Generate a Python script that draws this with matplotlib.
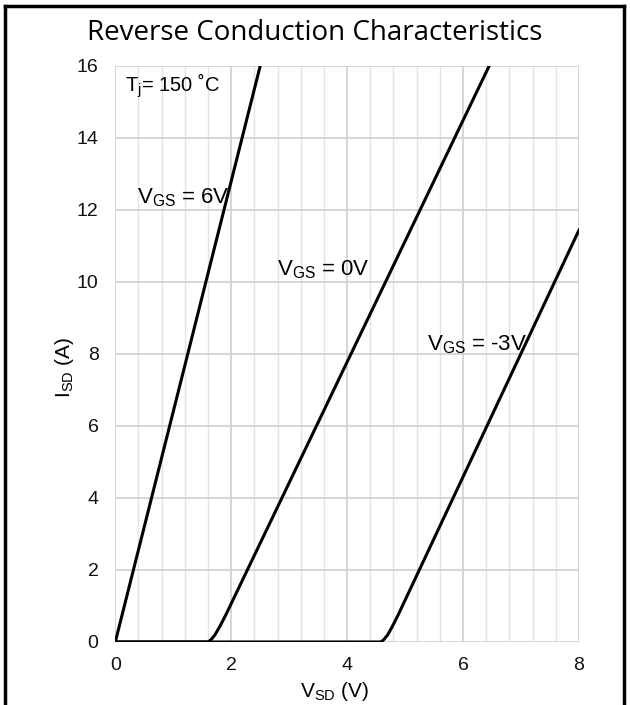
import numpy as np
import matplotlib.pyplot as plt
from matplotlib.lines import Line2D

plt.rcParams['font.family'] = ['Liberation Sans', 'DejaVu Sans']

# curvas (V_SD em V, I_SD em A)
v_6v = [0.0, 2.5]
i_6v = [0.0, 16.0]

v_0v = [0.0, 1.6, 1.65, 1.72, 1.8, 1.9, 6.45]
i_0v = [0.0, 0.0, 0.06, 0.2, 0.42, 0.73, 16.0]

v_m3v = [0.0, 4.58, 4.63, 4.7, 4.78, 4.88, 8.0]
i_m3v = [0.0, 0.0, 0.06, 0.2, 0.43, 0.75, 11.44]

x_ticks = [0, 2, 4, 6, 8]
y_ticks = [0, 2, 4, 6, 8, 10, 12, 14, 16]

fig = plt.figure(figsize=(6.3, 7.05), dpi=100)
ax = fig.add_axes([0.183, 0.0894, 0.736, 0.817])

ax.plot(v_6v, i_6v, color='black', linewidth=2.2, solid_capstyle='butt')
ax.plot(v_0v, i_0v, color='black', linewidth=2.2)
ax.plot(v_m3v, i_m3v, color='black', linewidth=2.2)

ax.set_xlim(0, 8)
ax.set_ylim(0, 16)
ax.set_xticks(x_ticks)
ax.set_yticks(y_ticks)
ax.set_xticks(np.arange(0, 8.01, 0.4), minor=True)
ax.grid(True, which='major', color='#d0d0d0', linewidth=1.2)
ax.grid(True, which='minor', axis='x', color='#e4e4e4', linewidth=1.0)
ax.set_axisbelow(True)
for s in ax.spines.values():
    s.set_visible(False)
ax.tick_params(which='both', length=0, labelsize=14, colors='#111111')
ax.tick_params(axis='y', pad=12)
ax.tick_params(axis='x', pad=11)

# rótulos dos eixos
fig.text(0.532, 0.0113, r'V$_\mathregular{SD}$ (V)', fontsize=15, ha='center', va='baseline')
fig.text(0.102, 0.479, r'I$_\mathregular{SD}$ (A)', fontsize=15, ha='center', va='center',
         rotation=90)

ax.text(0.17, 15.45, r'T$_\mathregular{j}$= 150 ˚C', fontsize=14.5, va='center')
ax.text(0.37, 12.35, r'V$_\mathregular{GS}$ = 6V', fontsize=16, va='center')
ax.text(2.79, 10.33, r'V$_\mathregular{GS}$ = 0V', fontsize=16, va='center')
ax.text(5.38, 8.25, r'V$_\mathregular{GS}$ = -3V', fontsize=16, va='center')

fig.text(0.5, 0.953, 'Reverse Conduction Characteristics', ha='center', va='center',
         fontsize=20, family=['Open Sans', 'DejaVu Sans'])

# moldura
fig.add_artist(Line2D([0.008, 0.008], [0, 0.992], color='black', linewidth=2.5))
fig.add_artist(Line2D([0.991, 0.991], [0, 0.992], color='black', linewidth=2.5))
fig.add_artist(Line2D([0.008, 0.991], [0.992, 0.992], color='black', linewidth=2.5))

fig.savefig('out.png', dpi=100)
